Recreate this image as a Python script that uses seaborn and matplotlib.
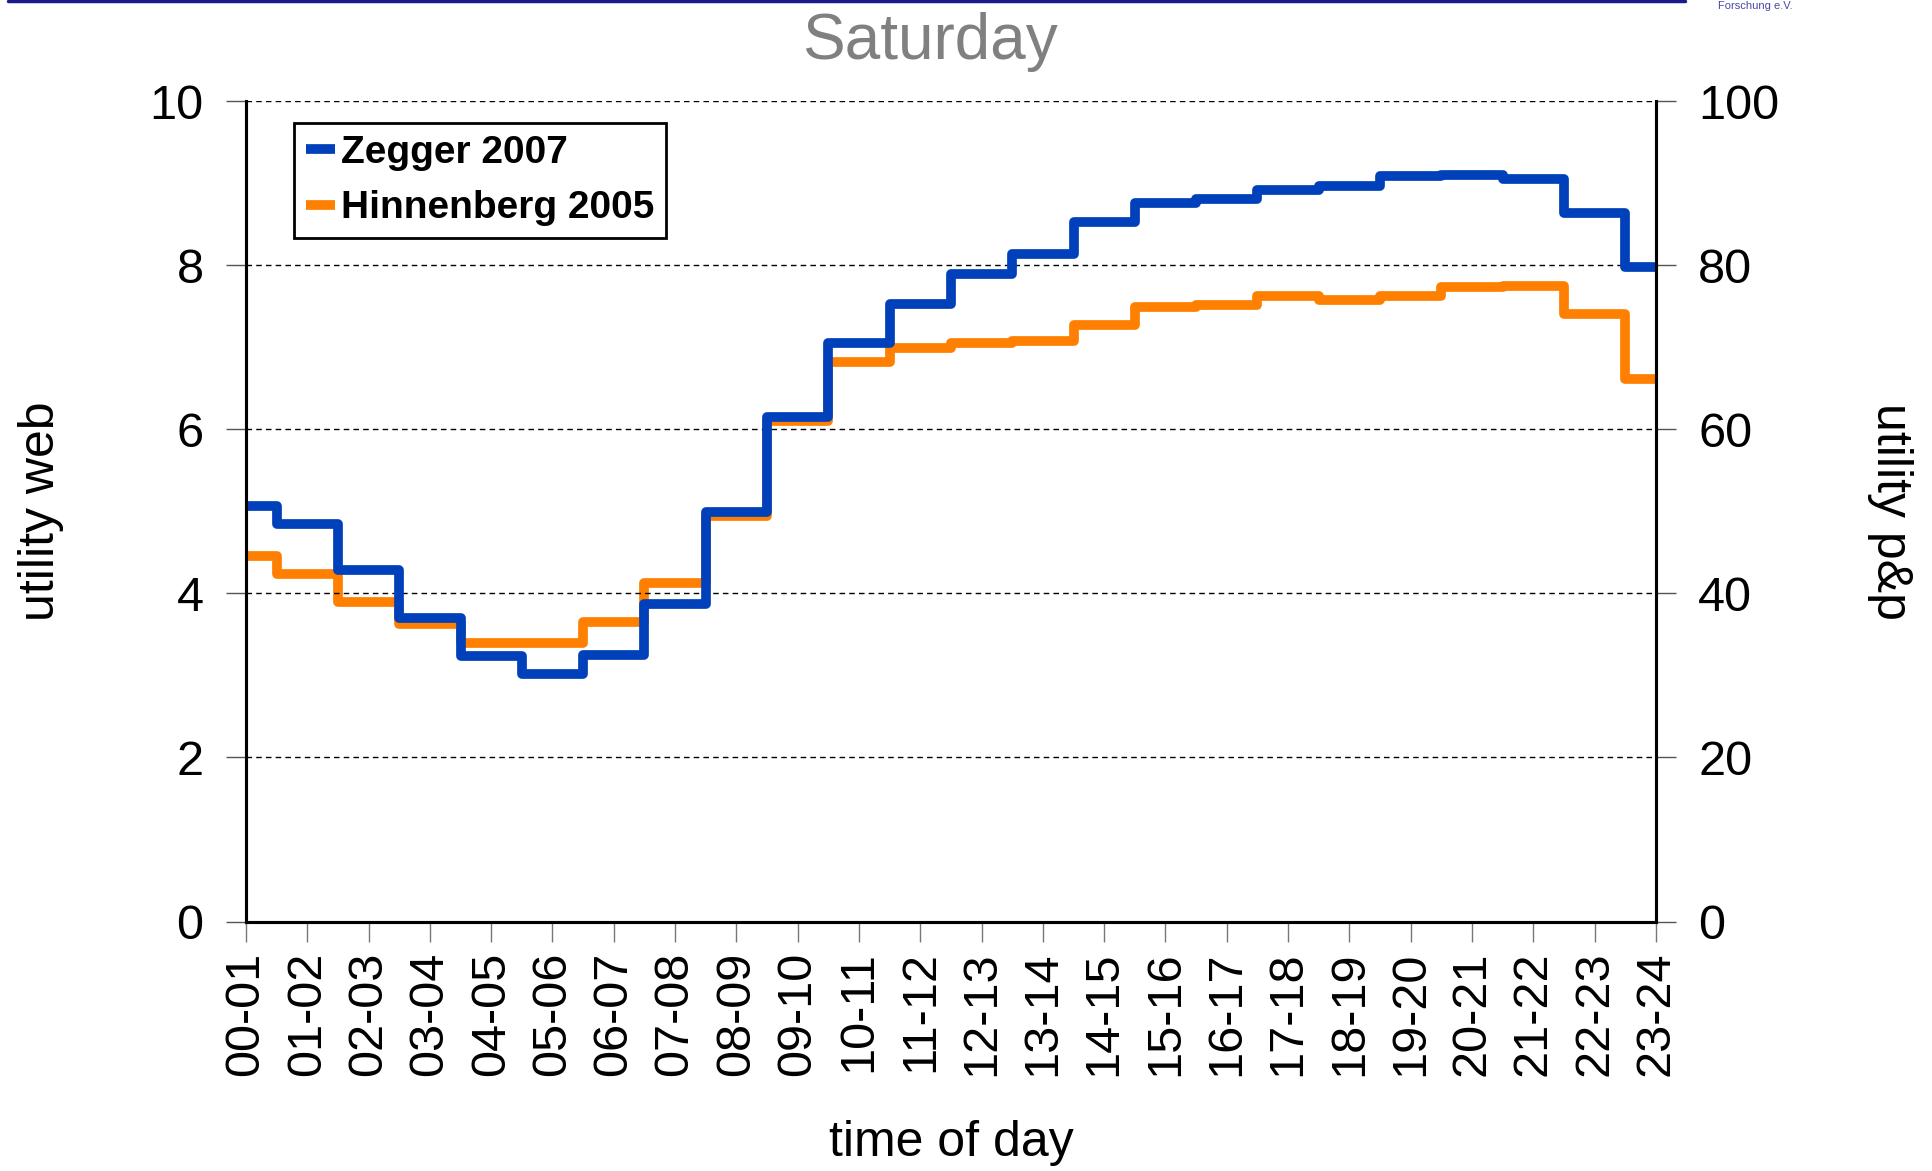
import numpy as np
import pandas as pd
import seaborn as sns
import matplotlib.pyplot as plt
from matplotlib.lines import Line2D

# hour slots on the x axis
hours = ['00-01', '01-02', '02-03', '03-04', '04-05', '05-06', '06-07', '07-08',
         '08-09', '09-10', '10-11', '11-12', '12-13', '13-14', '14-15', '15-16',
         '16-17', '17-18', '18-19', '19-20', '20-21', '21-22', '22-23', '23-24']

# utility web (left axis)
zegger_2007 = [5.07, 4.84, 4.28, 3.70, 3.24, 3.02, 3.25, 3.87, 4.99, 6.15, 7.05, 7.53,
               7.89, 8.14, 8.52, 8.76, 8.81, 8.92, 8.97, 9.09, 9.10, 9.05, 8.64, 7.98]

# utility p&p (right axis)
hinnenberg_2005 = [44.6, 42.4, 39.0, 36.3, 33.9, 33.9, 36.5, 41.3, 49.4, 61.0, 68.2, 69.9,
                   70.5, 70.7, 72.7, 74.9, 75.2, 76.3, 75.7, 76.3, 77.3, 77.5, 74.1, 66.1]

df = pd.DataFrame({'slot': np.arange(len(hours)),
                   'zegger': zegger_2007,
                   'hinnenberg': hinnenberg_2005})

blue = '#0041BB'
orange = '#FF8000'

sns.set_style('white')
plt.rcParams['font.family'] = ['Liberation Sans', 'DejaVu Sans']
plt.rcParams['text.color'] = 'black'
plt.rcParams['axes.labelcolor'] = 'black'
plt.rcParams['xtick.color'] = 'black'
plt.rcParams['ytick.color'] = 'black'

fig = plt.figure(figsize=(19.32, 11.71), dpi=100)
ax = fig.add_axes([0.1273, 0.2130, 0.7298, 0.7007])
ax2 = ax.twinx()

sns.lineplot(data=df, x='slot', y='hinnenberg', ax=ax2, color=orange, lw=7,
             drawstyle='steps-mid', solid_joinstyle='round')
sns.lineplot(data=df, x='slot', y='zegger', ax=ax, color=blue, lw=7,
             drawstyle='steps-mid', solid_joinstyle='round')

# blue on top of orange
ax.set_zorder(ax2.get_zorder() + 1)
ax.patch.set_visible(False)

ax.set_xlim(0, 23)
ax.set_ylim(0, 10)
ax2.set_ylim(0, 100)
ax.set_yticks([0, 2, 4, 6, 8, 10])
ax2.set_yticks([0, 20, 40, 60, 80, 100])
ax.set_xticks(df['slot'])
ax.set_xticklabels(hours, rotation=90)

ax.yaxis.grid(True, color='black', linestyle=(0, (4, 3)), lw=1)
ax.xaxis.grid(False)
ax2.grid(False)

for a in (ax, ax2):
    a.spines['top'].set_visible(False)
    for s in ('left', 'right', 'bottom'):
        a.spines[s].set_color('black')
        a.spines[s].set_linewidth(2.2)
ax.tick_params(axis='y', left=True, length=14.5, width=1, color='#555555',
               labelcolor='black', pad=16, labelsize=35)
ax.tick_params(axis='x', bottom=True, length=14.5, width=1, color='#777777',
               labelcolor='black', pad=7, labelsize=35)
ax2.tick_params(axis='y', right=True, length=14.5, width=1, color='#555555',
                labelcolor='black', pad=16, labelsize=35)

ax.set_xlabel('time of day', fontsize=36, va='center', color='black')
ax.xaxis.set_label_coords(0.5, -0.27)
ax.set_ylabel('utility web', fontsize=36, va='center', color='black')
ax.yaxis.set_label_coords(-0.1454, 0.5)
ax2.set_ylabel('utility p&p', fontsize=36, rotation=270, va='center', color='black')
ax2.yaxis.set_label_coords(1.166, 0.5)

ax.set_title('Saturday', fontsize=46, color='#808080', x=0.485, y=1.051, pad=0)

handles = [Line2D([], [], color=blue, lw=7, solid_capstyle='butt'),
           Line2D([], [], color=orange, lw=7, solid_capstyle='butt')]
leg = ax.legend(handles, ['Zegger 2007', 'Hinnenberg 2005'], loc='upper left',
                bbox_to_anchor=(0.034, 0.973), prop={'weight': 'bold', 'size': 28},
                frameon=True, fancybox=False, framealpha=1, edgecolor='black',
                handlelength=0.75, handletextpad=0.15, labelspacing=0.5,
                borderpad=0.3, borderaxespad=0)
leg.get_frame().set_linewidth(2)
for t in leg.get_texts():
    t.set_color('black')

# slide header remnants
fig.add_artist(Line2D([0.004, 0.872], [0.9995, 0.9995], transform=fig.transFigure,
                      color='#1a1a8c', lw=2.5))
fig.text(0.889, 0.9995, 'Forschung e.V.', color='#4848a8', fontsize=8, va='top')

fig.savefig('out.png', dpi=100)
